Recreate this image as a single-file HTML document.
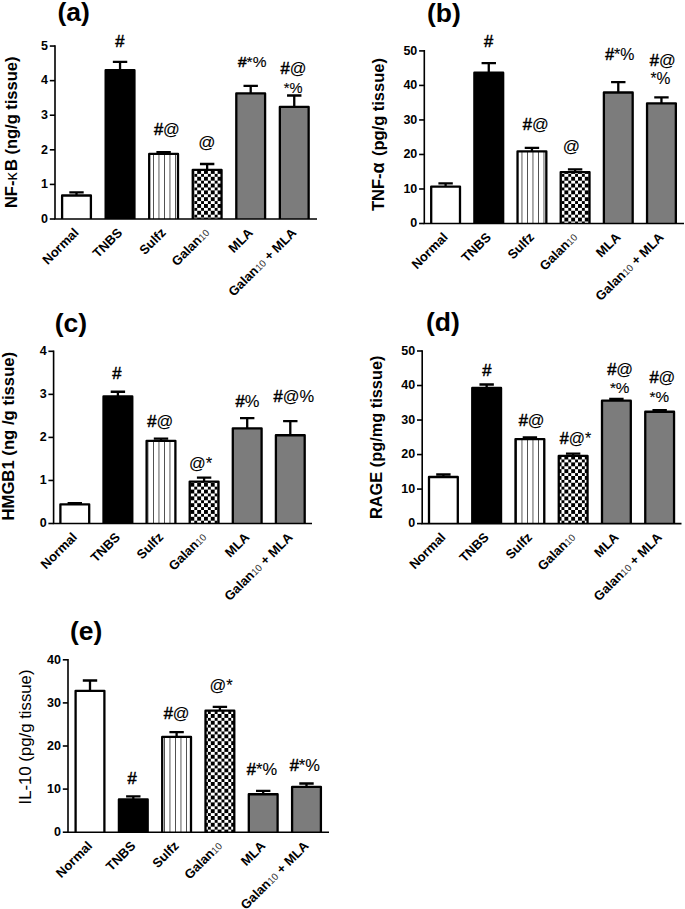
<!DOCTYPE html>
<html><head><meta charset="utf-8"><title>Figure</title>
<style>
html,body{margin:0;padding:0;background:#fff;}
body{width:685px;height:909px;overflow:hidden;font-family:"Liberation Sans", sans-serif;}
svg{display:block;}
text{font-family:"Liberation Sans", sans-serif;fill:#000;}
</style></head><body>
<svg width="685" height="909" viewBox="0 0 685 909">
<defs>
<pattern id="vl" patternUnits="userSpaceOnUse" width="5.5" height="10" x="4.5" shape-rendering="crispEdges"><rect width="5.5" height="10" fill="#fff"/><rect x="0" width="1" height="10" fill="#4a4a4a"/></pattern>
<pattern id="ck" patternUnits="userSpaceOnUse" width="6.8" height="6.8" shape-rendering="crispEdges"><rect width="6.8" height="6.8" fill="#fff"/><rect width="3.4" height="3.4" fill="#000"/><rect x="3.4" y="3.4" width="3.4" height="3.4" fill="#000"/></pattern>
</defs>
<rect width="685" height="909" fill="#fff"/>
<g id="pa">
<path d="M76.5 195.48V192.37M69.3 192.37H83.7" stroke="#000" stroke-width="2.3" fill="none"/>
<rect x="62" y="195.48" width="29" height="23.52" fill="#fff"/>
<path d="M62.1 219V195.48H90.9V219" fill="none" stroke="#000" stroke-width="2.3" stroke-linejoin="round"/>
<text transform="translate(79.5 233.5) rotate(-45)" text-anchor="end" font-size="13" font-weight="700">Normal</text>
<path d="M120.05 70.26V61.96M112.85 61.96H127.25" stroke="#000" stroke-width="2.3" fill="none"/>
<rect x="105.55" y="70.26" width="29" height="148.74" fill="#000"/>
<path d="M105.65 219V70.26H134.45V219" fill="none" stroke="#000" stroke-width="2.3" stroke-linejoin="round"/>
<text transform="translate(123.05 233.5) rotate(-45)" text-anchor="end" font-size="13" font-weight="700">TNBS</text>
<path d="M163.6 153.97V152.24M156.4 152.24H170.8" stroke="#000" stroke-width="2.3" fill="none"/>
<rect x="149.1" y="153.97" width="29" height="65.03" fill="url(#vl)"/>
<path d="M149.2 219V153.97H178V219" fill="none" stroke="#000" stroke-width="2.3" stroke-linejoin="round"/>
<text transform="translate(166.6 233.5) rotate(-45)" text-anchor="end" font-size="13" font-weight="700">Sulfz</text>
<path d="M207.15 169.88V164M199.95 164H214.35" stroke="#000" stroke-width="2.3" fill="none"/>
<rect x="192.65" y="169.88" width="29" height="49.12" fill="url(#ck)"/>
<path d="M192.75 219V169.88H221.55V219" fill="none" stroke="#000" stroke-width="2.3" stroke-linejoin="round"/>
<text transform="translate(210.15 233.5) rotate(-45)" text-anchor="end" font-size="13" font-weight="700">Galan<tspan font-weight="400" font-size="9.75" fill="#333">10</tspan></text>
<path d="M250.7 93.44V85.83M243.5 85.83H257.9" stroke="#000" stroke-width="2.3" fill="none"/>
<rect x="236.2" y="93.44" width="29" height="125.56" fill="#7c7c7c"/>
<path d="M236.3 219V93.44H265.1V219" fill="none" stroke="#000" stroke-width="2.3" stroke-linejoin="round"/>
<text transform="translate(253.7 233.5) rotate(-45)" text-anchor="end" font-size="13" font-weight="700">MLA</text>
<path d="M294.25 106.93V95.51M287.05 95.51H301.45" stroke="#000" stroke-width="2.3" fill="none"/>
<rect x="279.75" y="106.93" width="29" height="112.07" fill="#7c7c7c"/>
<path d="M279.85 219V106.93H308.65V219" fill="none" stroke="#000" stroke-width="2.3" stroke-linejoin="round"/>
<text transform="translate(297.25 233.5) rotate(-45)" text-anchor="end" font-size="13" font-weight="700">Galan<tspan font-weight="400" font-size="9.75" fill="#333">10</tspan> + MLA</text>
<path d="M55 45.25V219H317" stroke="#000" stroke-width="1.6" fill="none" stroke-linejoin="miter"/>
<path d="M49.8 219H55" stroke="#000" stroke-width="1.6"/>
<text x="48" y="222.8" text-anchor="end" font-size="12.5" font-weight="700">0</text>
<path d="M49.8 184.41H55" stroke="#000" stroke-width="1.6"/>
<text x="48" y="188.21" text-anchor="end" font-size="12.5" font-weight="700">1</text>
<path d="M49.8 149.82H55" stroke="#000" stroke-width="1.6"/>
<text x="48" y="153.62" text-anchor="end" font-size="12.5" font-weight="700">2</text>
<path d="M49.8 115.23H55" stroke="#000" stroke-width="1.6"/>
<text x="48" y="119.03" text-anchor="end" font-size="12.5" font-weight="700">3</text>
<path d="M49.8 80.64H55" stroke="#000" stroke-width="1.6"/>
<text x="48" y="84.44" text-anchor="end" font-size="12.5" font-weight="700">4</text>
<path d="M49.8 46.05H55" stroke="#000" stroke-width="1.6"/>
<text x="48" y="49.85" text-anchor="end" font-size="12.5" font-weight="700">5</text>
<text x="57.5" y="21.2" font-size="26.5" font-weight="700">(a)</text>
<text transform="translate(16.6 132.3) rotate(-90)" text-anchor="middle" font-size="16.5" font-weight="700">NF-<tspan font-weight="400">κ</tspan><tspan dx="1.2">B</tspan> (ng/g tissue)</text>
<text x="119.8" y="47" text-anchor="middle" font-size="16.5" stroke="#000" stroke-width="0.12"><tspan stroke-width="0.5">#</tspan></text>
<text x="166.9" y="134.8" text-anchor="middle" font-size="16.5" stroke="#000" stroke-width="0.12"><tspan stroke-width="0.5">#</tspan>@</text>
<text x="207" y="147.5" text-anchor="middle" font-size="17" stroke="#000" stroke-width="0.12">@</text>
<text x="252.2" y="67.2" text-anchor="middle" font-size="15.5" stroke="#000" stroke-width="0.12"><tspan stroke-width="0.5">#</tspan>*%</text>
<text x="293.5" y="73.7" text-anchor="middle" font-size="16.5" stroke="#000" stroke-width="0.12"><tspan stroke-width="0.5">#</tspan>@</text>
<text x="293.2" y="92.5" text-anchor="middle" font-size="14.7" stroke="#000" stroke-width="0.12">*%</text>
</g>
<g id="pb">
<path d="M445.6 186.56V183.46M438.4 183.46H452.8" stroke="#000" stroke-width="2.3" fill="none"/>
<rect x="431.1" y="186.56" width="29" height="36.94" fill="#fff"/>
<path d="M431.2 223.5V186.56H460V223.5" fill="none" stroke="#000" stroke-width="2.3" stroke-linejoin="round"/>
<text transform="translate(448.6 238) rotate(-45)" text-anchor="end" font-size="13" font-weight="700">Normal</text>
<path d="M488.77 72.65V63.15M481.57 63.15H495.97" stroke="#000" stroke-width="2.3" fill="none"/>
<rect x="474.27" y="72.65" width="29" height="150.85" fill="#000"/>
<path d="M474.37 223.5V72.65H503.17V223.5" fill="none" stroke="#000" stroke-width="2.3" stroke-linejoin="round"/>
<text transform="translate(491.77 238) rotate(-45)" text-anchor="end" font-size="13" font-weight="700">TNBS</text>
<path d="M531.94 151.35V147.9M524.74 147.9H539.14" stroke="#000" stroke-width="2.3" fill="none"/>
<rect x="517.44" y="151.35" width="29" height="72.15" fill="url(#vl)"/>
<path d="M517.54 223.5V151.35H546.34V223.5" fill="none" stroke="#000" stroke-width="2.3" stroke-linejoin="round"/>
<text transform="translate(534.94 238) rotate(-45)" text-anchor="end" font-size="13" font-weight="700">Sulfz</text>
<path d="M575.11 172.07V169.3M567.91 169.3H582.31" stroke="#000" stroke-width="2.3" fill="none"/>
<rect x="560.61" y="172.07" width="29" height="51.43" fill="url(#ck)"/>
<path d="M560.71 223.5V172.07H589.51V223.5" fill="none" stroke="#000" stroke-width="2.3" stroke-linejoin="round"/>
<text transform="translate(578.11 238) rotate(-45)" text-anchor="end" font-size="13" font-weight="700">Galan<tspan font-weight="400" font-size="9.75" fill="#333">10</tspan></text>
<path d="M618.28 92.5V82.14M611.08 82.14H625.48" stroke="#000" stroke-width="2.3" fill="none"/>
<rect x="603.78" y="92.5" width="29" height="131" fill="#7c7c7c"/>
<path d="M603.88 223.5V92.5H632.68V223.5" fill="none" stroke="#000" stroke-width="2.3" stroke-linejoin="round"/>
<text transform="translate(621.28 238) rotate(-45)" text-anchor="end" font-size="13" font-weight="700">MLA</text>
<path d="M661.45 103.37V97.33M654.25 97.33H668.65" stroke="#000" stroke-width="2.3" fill="none"/>
<rect x="646.95" y="103.37" width="29" height="120.13" fill="#7c7c7c"/>
<path d="M647.05 223.5V103.37H675.85V223.5" fill="none" stroke="#000" stroke-width="2.3" stroke-linejoin="round"/>
<text transform="translate(664.45 238) rotate(-45)" text-anchor="end" font-size="13" font-weight="700">Galan<tspan font-weight="400" font-size="9.75" fill="#333">10</tspan> + MLA</text>
<path d="M424.3 50.1V223.5H684" stroke="#000" stroke-width="1.6" fill="none" stroke-linejoin="miter"/>
<path d="M419.1 223.5H424.3" stroke="#000" stroke-width="1.6"/>
<text x="417.3" y="227.3" text-anchor="end" font-size="12.5" font-weight="700">0</text>
<path d="M419.1 188.98H424.3" stroke="#000" stroke-width="1.6"/>
<text x="417.3" y="192.78" text-anchor="end" font-size="12.5" font-weight="700">10</text>
<path d="M419.1 154.46H424.3" stroke="#000" stroke-width="1.6"/>
<text x="417.3" y="158.26" text-anchor="end" font-size="12.5" font-weight="700">20</text>
<path d="M419.1 119.94H424.3" stroke="#000" stroke-width="1.6"/>
<text x="417.3" y="123.74" text-anchor="end" font-size="12.5" font-weight="700">30</text>
<path d="M419.1 85.42H424.3" stroke="#000" stroke-width="1.6"/>
<text x="417.3" y="89.22" text-anchor="end" font-size="12.5" font-weight="700">40</text>
<path d="M419.1 50.9H424.3" stroke="#000" stroke-width="1.6"/>
<text x="417.3" y="54.7" text-anchor="end" font-size="12.5" font-weight="700">50</text>
<text x="427" y="21.8" font-size="26.5" font-weight="700">(b)</text>
<text transform="translate(383.7 134.5) rotate(-90)" text-anchor="middle" font-size="16.5" font-weight="700">TNF-<tspan font-size="18">α</tspan><tspan dx="1.6"> </tspan>(pg/g tissue)</text>
<text x="488.5" y="47" text-anchor="middle" font-size="16.5" stroke="#000" stroke-width="0.12"><tspan stroke-width="0.5">#</tspan></text>
<text x="535.7" y="129.8" text-anchor="middle" font-size="16.5" stroke="#000" stroke-width="0.12"><tspan stroke-width="0.5">#</tspan>@</text>
<text x="571.3" y="151.6" text-anchor="middle" font-size="17" stroke="#000" stroke-width="0.12">@</text>
<text x="619.8" y="60" text-anchor="middle" font-size="15.9" stroke="#000" stroke-width="0.12"><tspan stroke-width="0.5">#</tspan>*%</text>
<text x="662.7" y="66.3" text-anchor="middle" font-size="16.5" stroke="#000" stroke-width="0.12"><tspan stroke-width="0.5">#</tspan>@</text>
<text x="660.5" y="84" text-anchor="middle" font-size="15.6" stroke="#000" stroke-width="0.12">*%</text>
</g>
<g id="pc">
<path d="M74.8 504.34V503.05M67.6 503.05H82" stroke="#000" stroke-width="2.3" fill="none"/>
<rect x="60.3" y="504.34" width="29" height="19.16" fill="#fff"/>
<path d="M60.4 523.5V504.34H89.2V523.5" fill="none" stroke="#000" stroke-width="2.3" stroke-linejoin="round"/>
<text transform="translate(77.8 538) rotate(-45)" text-anchor="end" font-size="13" font-weight="700">Normal</text>
<path d="M117.9 396.5V391.77M110.7 391.77H125.1" stroke="#000" stroke-width="2.3" fill="none"/>
<rect x="103.4" y="396.5" width="29" height="127" fill="#000"/>
<path d="M103.5 523.5V396.5H132.3V523.5" fill="none" stroke="#000" stroke-width="2.3" stroke-linejoin="round"/>
<text transform="translate(120.9 538) rotate(-45)" text-anchor="end" font-size="13" font-weight="700">TNBS</text>
<path d="M161 440.84V438.69M153.8 438.69H168.2" stroke="#000" stroke-width="2.3" fill="none"/>
<rect x="146.5" y="440.84" width="29" height="82.66" fill="url(#vl)"/>
<path d="M146.6 523.5V440.84H175.4V523.5" fill="none" stroke="#000" stroke-width="2.3" stroke-linejoin="round"/>
<text transform="translate(164 538) rotate(-45)" text-anchor="end" font-size="13" font-weight="700">Sulfz</text>
<path d="M204.1 481.53V477.65M196.9 477.65H211.3" stroke="#000" stroke-width="2.3" fill="none"/>
<rect x="189.6" y="481.53" width="29" height="41.97" fill="url(#ck)"/>
<path d="M189.7 523.5V481.53H218.5V523.5" fill="none" stroke="#000" stroke-width="2.3" stroke-linejoin="round"/>
<text transform="translate(207.1 538) rotate(-45)" text-anchor="end" font-size="13" font-weight="700">Galan<tspan font-weight="400" font-size="9.75" fill="#333">10</tspan></text>
<path d="M247.2 428.36V418.03M240 418.03H254.4" stroke="#000" stroke-width="2.3" fill="none"/>
<rect x="232.7" y="428.36" width="29" height="95.14" fill="#7c7c7c"/>
<path d="M232.8 523.5V428.36H261.6V523.5" fill="none" stroke="#000" stroke-width="2.3" stroke-linejoin="round"/>
<text transform="translate(250.2 538) rotate(-45)" text-anchor="end" font-size="13" font-weight="700">MLA</text>
<path d="M290.3 435.25V421.04M283.1 421.04H297.5" stroke="#000" stroke-width="2.3" fill="none"/>
<rect x="275.8" y="435.25" width="29" height="88.25" fill="#7c7c7c"/>
<path d="M275.9 523.5V435.25H304.7V523.5" fill="none" stroke="#000" stroke-width="2.3" stroke-linejoin="round"/>
<text transform="translate(293.3 538) rotate(-45)" text-anchor="end" font-size="13" font-weight="700">Galan<tspan font-weight="400" font-size="9.75" fill="#333">10</tspan> + MLA</text>
<path d="M53.6 350.5V523.5H312" stroke="#000" stroke-width="1.6" fill="none" stroke-linejoin="miter"/>
<path d="M48.4 523.5H53.6" stroke="#000" stroke-width="1.6"/>
<text x="46.6" y="527.3" text-anchor="end" font-size="12.5" font-weight="700">0</text>
<path d="M48.4 480.45H53.6" stroke="#000" stroke-width="1.6"/>
<text x="46.6" y="484.25" text-anchor="end" font-size="12.5" font-weight="700">1</text>
<path d="M48.4 437.4H53.6" stroke="#000" stroke-width="1.6"/>
<text x="46.6" y="441.2" text-anchor="end" font-size="12.5" font-weight="700">2</text>
<path d="M48.4 394.35H53.6" stroke="#000" stroke-width="1.6"/>
<text x="46.6" y="398.15" text-anchor="end" font-size="12.5" font-weight="700">3</text>
<path d="M48.4 351.3H53.6" stroke="#000" stroke-width="1.6"/>
<text x="46.6" y="355.1" text-anchor="end" font-size="12.5" font-weight="700">4</text>
<text x="54.7" y="332.2" font-size="26.5" font-weight="700">(c)</text>
<text transform="translate(14 436.2) rotate(-90)" text-anchor="middle" font-size="16.7" font-weight="700">HMGB1 (ng /g tissue)</text>
<text x="116.8" y="379" text-anchor="middle" font-size="16.5" stroke="#000" stroke-width="0.12"><tspan stroke-width="0.5">#</tspan></text>
<text x="160.3" y="427.2" text-anchor="middle" font-size="16.5" stroke="#000" stroke-width="0.12"><tspan stroke-width="0.5">#</tspan>@</text>
<text x="200.5" y="469.2" text-anchor="middle" font-size="16.5" stroke="#000" stroke-width="0.12">@*</text>
<text x="247.4" y="407" text-anchor="middle" font-size="16.5" stroke="#000" stroke-width="0.12"><tspan stroke-width="0.5">#</tspan>%</text>
<text x="293.8" y="402.3" text-anchor="middle" font-size="16.5" stroke="#000" stroke-width="0.12"><tspan stroke-width="0.5">#</tspan>@%</text>
</g>
<g id="pd">
<path d="M443.4 477V474.51M436.2 474.51H450.6" stroke="#000" stroke-width="2.3" fill="none"/>
<rect x="428.9" y="477" width="29" height="46.6" fill="#fff"/>
<path d="M429 523.6V477H457.8V523.6" fill="none" stroke="#000" stroke-width="2.3" stroke-linejoin="round"/>
<text transform="translate(446.4 538.1) rotate(-45)" text-anchor="end" font-size="13" font-weight="700">Normal</text>
<path d="M486.65 387.94V384.48M479.45 384.48H493.85" stroke="#000" stroke-width="2.3" fill="none"/>
<rect x="472.15" y="387.94" width="29" height="135.66" fill="#000"/>
<path d="M472.25 523.6V387.94H501.05V523.6" fill="none" stroke="#000" stroke-width="2.3" stroke-linejoin="round"/>
<text transform="translate(489.65 538.1) rotate(-45)" text-anchor="end" font-size="13" font-weight="700">TNBS</text>
<path d="M529.9 439.03V437.3M522.7 437.3H537.1" stroke="#000" stroke-width="2.3" fill="none"/>
<rect x="515.4" y="439.03" width="29" height="84.57" fill="url(#vl)"/>
<path d="M515.5 523.6V439.03H544.3V523.6" fill="none" stroke="#000" stroke-width="2.3" stroke-linejoin="round"/>
<text transform="translate(532.9 538.1) rotate(-45)" text-anchor="end" font-size="13" font-weight="700">Sulfz</text>
<path d="M573.15 455.94V453.7M565.95 453.7H580.35" stroke="#000" stroke-width="2.3" fill="none"/>
<rect x="558.65" y="455.94" width="29" height="67.66" fill="url(#ck)"/>
<path d="M558.75 523.6V455.94H587.55V523.6" fill="none" stroke="#000" stroke-width="2.3" stroke-linejoin="round"/>
<text transform="translate(576.15 538.1) rotate(-45)" text-anchor="end" font-size="13" font-weight="700">Galan<tspan font-weight="400" font-size="9.75" fill="#333">10</tspan></text>
<path d="M616.4 400.71V398.98M609.2 398.98H623.6" stroke="#000" stroke-width="2.3" fill="none"/>
<rect x="601.9" y="400.71" width="29" height="122.89" fill="#7c7c7c"/>
<path d="M602 523.6V400.71H630.8V523.6" fill="none" stroke="#000" stroke-width="2.3" stroke-linejoin="round"/>
<text transform="translate(619.4 538.1) rotate(-45)" text-anchor="end" font-size="13" font-weight="700">MLA</text>
<path d="M659.65 411.76V410.03M652.45 410.03H666.85" stroke="#000" stroke-width="2.3" fill="none"/>
<rect x="645.15" y="411.76" width="29" height="111.84" fill="#7c7c7c"/>
<path d="M645.25 523.6V411.76H674.05V523.6" fill="none" stroke="#000" stroke-width="2.3" stroke-linejoin="round"/>
<text transform="translate(662.65 538.1) rotate(-45)" text-anchor="end" font-size="13" font-weight="700">Galan<tspan font-weight="400" font-size="9.75" fill="#333">10</tspan> + MLA</text>
<path d="M422.2 350.2V523.6H681.5" stroke="#000" stroke-width="1.6" fill="none" stroke-linejoin="miter"/>
<path d="M417 523.6H422.2" stroke="#000" stroke-width="1.6"/>
<text x="415.2" y="527.4" text-anchor="end" font-size="12.5" font-weight="700">0</text>
<path d="M417 489.08H422.2" stroke="#000" stroke-width="1.6"/>
<text x="415.2" y="492.88" text-anchor="end" font-size="12.5" font-weight="700">10</text>
<path d="M417 454.56H422.2" stroke="#000" stroke-width="1.6"/>
<text x="415.2" y="458.36" text-anchor="end" font-size="12.5" font-weight="700">20</text>
<path d="M417 420.04H422.2" stroke="#000" stroke-width="1.6"/>
<text x="415.2" y="423.84" text-anchor="end" font-size="12.5" font-weight="700">30</text>
<path d="M417 385.52H422.2" stroke="#000" stroke-width="1.6"/>
<text x="415.2" y="389.32" text-anchor="end" font-size="12.5" font-weight="700">40</text>
<path d="M417 351H422.2" stroke="#000" stroke-width="1.6"/>
<text x="415.2" y="354.8" text-anchor="end" font-size="12.5" font-weight="700">50</text>
<text x="425.9" y="331" font-size="26.5" font-weight="700">(d)</text>
<text transform="translate(382.4 437.3) rotate(-90)" text-anchor="middle" font-size="16.35" font-weight="700">RAGE (pg/mg tissue)</text>
<text x="486.8" y="376" text-anchor="middle" font-size="16.5" stroke="#000" stroke-width="0.12"><tspan stroke-width="0.5">#</tspan></text>
<text x="531.6" y="425.5" text-anchor="middle" font-size="16.5" stroke="#000" stroke-width="0.12"><tspan stroke-width="0.5">#</tspan>@</text>
<text x="575.5" y="443.7" text-anchor="middle" font-size="16" stroke="#000" stroke-width="0.12"><tspan stroke-width="0.5">#</tspan>@*</text>
<text x="620.1" y="374.8" text-anchor="middle" font-size="16.5" stroke="#000" stroke-width="0.12"><tspan stroke-width="0.5">#</tspan>@</text>
<text x="619.7" y="392.6" text-anchor="middle" font-size="15.3" stroke="#000" stroke-width="0.12">*%</text>
<text x="662.4" y="383.4" text-anchor="middle" font-size="16.5" stroke="#000" stroke-width="0.12"><tspan stroke-width="0.5">#</tspan>@</text>
<text x="659.3" y="401.5" text-anchor="middle" font-size="15.3" stroke="#000" stroke-width="0.12">*%</text>
</g>
<g id="pe">
<path d="M90 690.83V680.49M82.8 680.49H97.2" stroke="#000" stroke-width="2.3" fill="none"/>
<rect x="75.5" y="690.83" width="29" height="141.37" fill="#fff"/>
<path d="M75.6 832.2V690.83H104.4V832.2" fill="none" stroke="#000" stroke-width="2.3" stroke-linejoin="round"/>
<text transform="translate(93 846.7) rotate(-45)" text-anchor="end" font-size="13" font-weight="700">Normal</text>
<path d="M133.3 799.44V796.43M126.1 796.43H140.5" stroke="#000" stroke-width="2.3" fill="none"/>
<rect x="118.8" y="799.44" width="29" height="32.76" fill="#000"/>
<path d="M118.9 832.2V799.44H147.7V832.2" fill="none" stroke="#000" stroke-width="2.3" stroke-linejoin="round"/>
<text transform="translate(136.3 846.7) rotate(-45)" text-anchor="end" font-size="13" font-weight="700">TNBS</text>
<path d="M176.6 736.95V732.21M169.4 732.21H183.8" stroke="#000" stroke-width="2.3" fill="none"/>
<rect x="162.1" y="736.95" width="29" height="95.25" fill="url(#vl)"/>
<path d="M162.2 832.2V736.95H191V832.2" fill="none" stroke="#000" stroke-width="2.3" stroke-linejoin="round"/>
<text transform="translate(179.6 846.7) rotate(-45)" text-anchor="end" font-size="13" font-weight="700">Sulfz</text>
<path d="M219.9 710.66V706.78M212.7 706.78H227.1" stroke="#000" stroke-width="2.3" fill="none"/>
<rect x="205.4" y="710.66" width="29" height="121.54" fill="url(#ck)"/>
<path d="M205.5 832.2V710.66H234.3V832.2" fill="none" stroke="#000" stroke-width="2.3" stroke-linejoin="round"/>
<text transform="translate(222.9 846.7) rotate(-45)" text-anchor="end" font-size="13" font-weight="700">Galan<tspan font-weight="400" font-size="9.75" fill="#333">10</tspan></text>
<path d="M263.2 794.27V790.82M256 790.82H270.4" stroke="#000" stroke-width="2.3" fill="none"/>
<rect x="248.7" y="794.27" width="29" height="37.93" fill="#7c7c7c"/>
<path d="M248.8 832.2V794.27H277.6V832.2" fill="none" stroke="#000" stroke-width="2.3" stroke-linejoin="round"/>
<text transform="translate(266.2 846.7) rotate(-45)" text-anchor="end" font-size="13" font-weight="700">MLA</text>
<path d="M306.5 786.95V783.5M299.3 783.5H313.7" stroke="#000" stroke-width="2.3" fill="none"/>
<rect x="292" y="786.95" width="29" height="45.25" fill="#7c7c7c"/>
<path d="M292.1 832.2V786.95H320.9V832.2" fill="none" stroke="#000" stroke-width="2.3" stroke-linejoin="round"/>
<text transform="translate(309.5 846.7) rotate(-45)" text-anchor="end" font-size="13" font-weight="700">Galan<tspan font-weight="400" font-size="9.75" fill="#333">10</tspan> + MLA</text>
<path d="M68 659V832.2H329" stroke="#000" stroke-width="1.6" fill="none" stroke-linejoin="miter"/>
<path d="M62.8 832.2H68" stroke="#000" stroke-width="1.6"/>
<text x="61" y="836" text-anchor="end" font-size="12.5" font-weight="700">0</text>
<path d="M62.8 789.1H68" stroke="#000" stroke-width="1.6"/>
<text x="61" y="792.9" text-anchor="end" font-size="12.5" font-weight="700">10</text>
<path d="M62.8 746H68" stroke="#000" stroke-width="1.6"/>
<text x="61" y="749.8" text-anchor="end" font-size="12.5" font-weight="700">20</text>
<path d="M62.8 702.9H68" stroke="#000" stroke-width="1.6"/>
<text x="61" y="706.7" text-anchor="end" font-size="12.5" font-weight="700">30</text>
<path d="M62.8 659.8H68" stroke="#000" stroke-width="1.6"/>
<text x="61" y="663.6" text-anchor="end" font-size="12.5" font-weight="700">40</text>
<text x="70" y="640.4" font-size="26.5" font-weight="700">(e)</text>
<text transform="translate(31 737) rotate(-90)" text-anchor="middle" font-size="16.75" font-weight="400">IL-10 (pg/g tissue)</text>
<text x="132" y="784" text-anchor="middle" font-size="16.5" stroke="#000" stroke-width="0.12"><tspan stroke-width="0.5">#</tspan></text>
<text x="176.6" y="718.6" text-anchor="middle" font-size="16.5" stroke="#000" stroke-width="0.12"><tspan stroke-width="0.5">#</tspan>@</text>
<text x="221.2" y="691.4" text-anchor="middle" font-size="16.5" stroke="#000" stroke-width="0.12">@*</text>
<text x="262" y="775.4" text-anchor="middle" font-size="16.5" stroke="#000" stroke-width="0.12"><tspan stroke-width="0.5">#</tspan>*%</text>
<text x="304.8" y="771" text-anchor="middle" font-size="16.5" stroke="#000" stroke-width="0.12"><tspan stroke-width="0.5">#</tspan>*%</text>
</g>
</svg>
</body></html>
